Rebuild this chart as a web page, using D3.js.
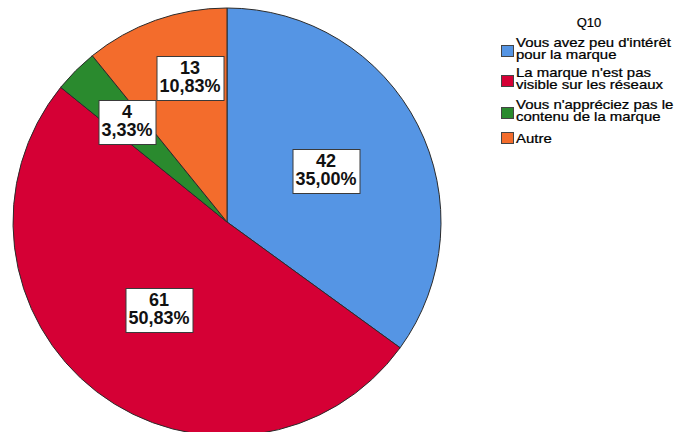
<!DOCTYPE html>
<html>
<head>
<meta charset="utf-8">
<script src="https://cdn.jsdelivr.net/npm/d3@7"></script>
<style>
  html, body { margin: 0; padding: 0; background: #fff; }
  svg { display: block; font-family: Arial, "Liberation Sans", sans-serif; }
</style>
</head>
<body>
<svg id="chart" width="678" height="432"></svg>
<script>
// Q10 responses
const title = "Q10";
const categories = [
  "Vous avez peu d'intérêt pour la marque",
  "La marque n'est pas visible sur les réseaux",
  "Vous n'appréciez pas le contenu de la marque",
  "Autre"
];
const legendLines = [
  ["Vous avez peu d'intérêt", "pour la marque"],
  ["La marque n'est pas", "visible sur les réseaux"],
  ["Vous n'appréciez pas le", "contenu de la marque"],
  ["Autre"]
];
const counts = [42, 61, 4, 13];
const percentLabels = ["35,00%", "50,83%", "3,33%", "10,83%"];
const colors = ["#5595e4", "#d50035", "#2a8a2e", "#f36c2c"];

const svg = d3.select("#chart");
const cx = 227, cy = 222, R = 214;

const pie = d3.pie().sort(null).value(d => d)(counts);
const arc = d3.arc().innerRadius(0).outerRadius(R);

const g = svg.append("g").attr("transform", `translate(${cx},${cy})`);

g.selectAll("path.slice")
  .data(pie)
  .join("path")
  .attr("class", "slice")
  .attr("d", arc)
  .attr("fill", (d, i) => colors[i])
  .attr("stroke", "#2b2b2b")
  .attr("stroke-width", 1)
  .attr("stroke-linejoin", "round");

// value labels: boxed count + percentage
const fontSize = 18, padX = 3, boxH = 44;
const total = d3.sum(counts);
const boxes = pie.map((d, i) => {
  const share = counts[i] / total;
  const rf = share < 0.05 ? 0.66 : share < 0.15 ? 0.70 : 0.52;
  const [x, y] = d3.arc().innerRadius(R * rf).outerRadius(R * rf).centroid(d);
  return { i, x, y };
});

const labels = g.selectAll("g.lbl")
  .data(boxes)
  .join("g")
  .attr("class", "lbl");

labels.append("rect")
  .attr("fill", "#fff")
  .attr("stroke", "#3a3a3a")
  .attr("stroke-width", 1);

labels.append("text")
  .attr("text-anchor", "middle")
  .attr("font-weight", "bold")
  .attr("font-size", fontSize)
  .attr("fill", "#111")
  .selectAll("tspan")
  .data(d => [String(counts[d.i]), percentLabels[d.i]])
  .join("tspan")
  .attr("x", 0)
  .attr("y", (t, k) => k === 0 ? -4 : 14)
  .text(t => t);

// size boxes from their text, then keep overlapping boxes corner to corner
labels.each(function (d) {
  const bb = d3.select(this).select("text").node().getBBox();
  d.w = Math.round(bb.width + 2 * padX);
  d.h = boxH;
});
const placed = [];
boxes.forEach(b => {
  placed.forEach(a => {
    const overlapX = Math.abs(b.x - a.x) < (a.w + b.w) / 2;
    const overlapY = Math.abs(b.y - a.y) < (a.h + b.h) / 2;
    if (overlapX && overlapY) {
      const sx = b.x >= a.x ? 1 : -1;
      const sy = b.y >= a.y ? 1 : -1;
      b.x = a.x + sx * ((a.w + b.w) / 2 + 1);
      b.y = a.y + sy * ((a.h + b.h) / 2);
    }
  });
  placed.push(b);
});

labels.attr("transform", d => `translate(${Math.round(d.x)},${Math.round(d.y)})`);
labels.select("rect")
  .attr("x", d => -d.w / 2 + 0.5)
  .attr("y", -22 + 0.5)
  .attr("width", d => d.w)
  .attr("height", d => d.h);

// legend
svg.append("text")
  .attr("x", 589)
  .attr("y", 27)
  .attr("text-anchor", "middle")
  .attr("font-size", 13)
  .attr("fill", "#000")
  .attr("stroke", "#000")
  .attr("stroke-width", 0.2)
  .text(title);

const legendTop = [45, 75, 107, 132];
const items = svg.append("g").selectAll("g.item")
  .data(categories)
  .join("g")
  .attr("class", "item");

items.append("rect")
  .attr("x", 501.5)
  .attr("y", (d, i) => legendTop[i] + 0.5)
  .attr("width", 12)
  .attr("height", 11)
  .attr("fill", (d, i) => colors[i])
  .attr("stroke", "#444")
  .attr("stroke-width", 1);

items.selectAll("text")
  .data((d, i) => legendLines[i].map((t, k) => ({ t, k, i })))
  .join("text")
  .attr("font-size", 13)
  .attr("fill", "#000")
  .attr("stroke", "#000")
  .attr("stroke-width", 0.25)
  .attr("transform", o => {
    const n = legendLines[o.i].length;
    const base = n === 1 ? legendTop[o.i] + 11 : legendTop[o.i] + 2;
    return `translate(516,${base + o.k * 12}) scale(1.15,1)`;
  })
  .text(o => o.t);
</script>
</body>
</html>
